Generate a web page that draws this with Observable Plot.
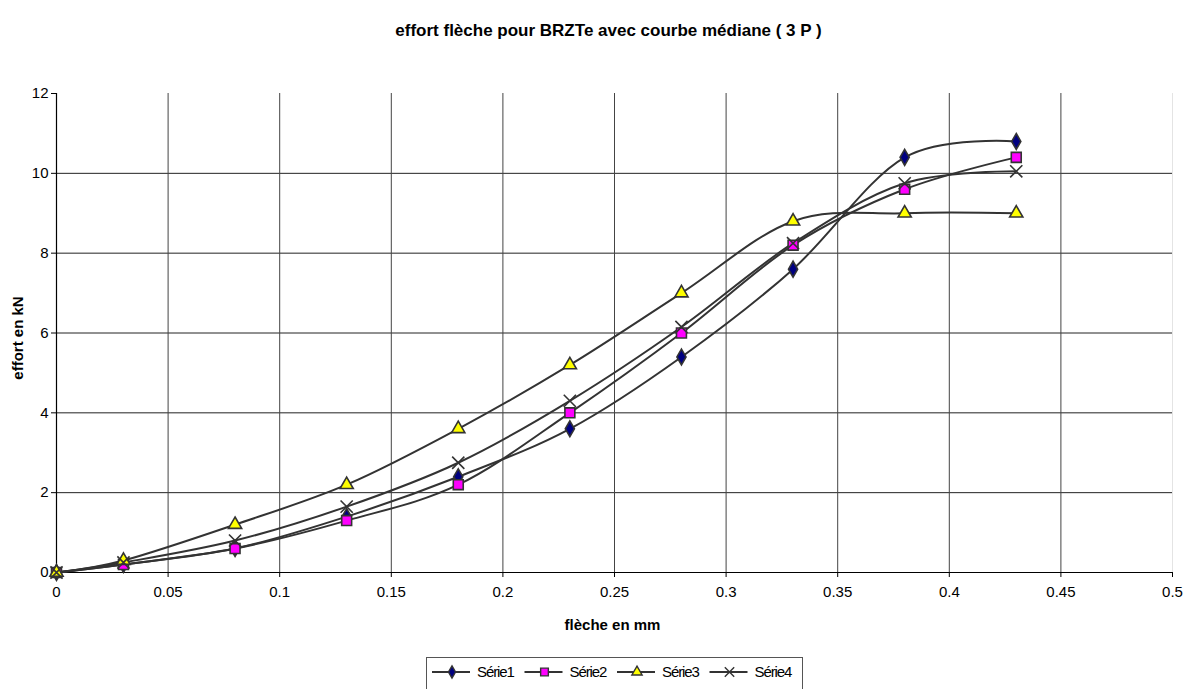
<!DOCTYPE html>
<html>
<head>
<meta charset="utf-8">
<script src="https://cdn.jsdelivr.net/npm/d3@7"></script>
<script src="https://cdn.jsdelivr.net/npm/@observablehq/plot@0.6"></script>
<style>
  body { margin: 0; background: #fff; font-family: "Liberation Sans", Arial, sans-serif; }
  #chart { position: relative; width: 1202px; height: 689px; overflow: hidden; }
  #legend { position: absolute; left: 426px; top: 657px; }
</style>
</head>
<body>
<div id="chart"></div>
<script>
// Deflection (mm) at which each load was measured
const fleche = [0, 0.03, 0.08, 0.13, 0.18, 0.23, 0.28, 0.33, 0.38, 0.43];

// Load (kN) for each specimen
const serie1 = [0, 0.2, 0.6, 1.4, 2.4, 3.6, 5.4, 7.6, 10.4, 10.8];
const serie2 = [0, 0.2, 0.6, 1.3, 2.2, 4.0, 6.0, 8.2, 9.6, 10.4];
const serie3 = [0, 0.3, 1.2, 2.2, 3.6, 5.2, 7.0, 8.8, 9.0, 9.0];
const serie4 = [0, 0.25, 0.8, 1.65, 2.75, 4.3, 6.15, 8.25, 9.75, 10.05];

const seriesNames = ["Série1", "Série2", "Série3", "Série4"];
const seriesValues = [serie1, serie2, serie3, serie4];

const xTicks = [0, 0.05, 0.1, 0.15, 0.2, 0.25, 0.3, 0.35, 0.4, 0.45, 0.5];
const yTicks = [0, 2, 4, 6, 8, 10, 12];

const title = "effort flèche pour BRZTe avec courbe médiane ( 3 P )";
const xLabel = "flèche en mm";
const yLabel = "effort en kN";

// Marker style per series
const markers = {
  "Série1": {symbol: "diamond", r: 4.8, fill: "#000080", stroke: "#333"},
  "Série2": {symbol: "square", r: 5.6, fill: "#ff00ff", stroke: "#333"},
  "Série3": {symbol: "triangle", r: 4.9, fill: "#ffff00", stroke: "#333"},
  "Série4": {symbol: "times", r: 5.6, fill: "none", stroke: "#333"}
};

const data = seriesNames.flatMap((name, i) =>
  fleche.map((x, j) => ({serie: name, fleche: x, effort: seriesValues[i][j]}))
);

const font = "'Liberation Sans', Arial, sans-serif";

const plot = Plot.plot({
  width: 1202,
  height: 689,
  marginLeft: 56,
  marginRight: 30,
  marginTop: 93,
  marginBottom: 117,
  style: {fontFamily: font, fontSize: "15px", color: "#000", background: "#fff"},
  x: {domain: [0, 0.5]},
  y: {domain: [0, 12]},
  marks: [
    Plot.gridY(yTicks.filter(v => v > 0 && v < 12), {stroke: "#222", strokeOpacity: 1, strokeWidth: 1}),
    Plot.gridX(xTicks.filter(v => v > 0 && v < 0.5), {stroke: "#444", strokeOpacity: 1, strokeWidth: 1}),
    Plot.ruleX([0.5], {stroke: "#e4e4e4", strokeWidth: 1}),
    Plot.axisY({ticks: yTicks, tickSize: 5, tickPadding: 3, label: null, fontSize: 15, letterSpacing: -1, tickFormat: d => String(d)}),
    Plot.axisX({ticks: xTicks, tickSize: 5, tickPadding: 9, label: null, fontSize: 15, letterSpacing: -1.2, tickFormat: d => String(d)}),
    Plot.ruleY([0], {stroke: "#000", strokeWidth: 1.2}),
    Plot.ruleX([0], {stroke: "#000", strokeWidth: 1.2}),
    Plot.line(data, {x: "fleche", y: "effort", z: "serie", stroke: "#333", strokeWidth: 2, curve: "cardinal"}),
    ...seriesNames.map(name => Plot.dot(data.filter(d => d.serie === name), {
      x: "fleche", y: "effort", ...markers[name], strokeWidth: 1.6
    })),
    Plot.text([title], {frameAnchor: "top", lineAnchor: "middle", dy: -63, dx: -6, fontSize: 17, fontWeight: "bold", letterSpacing: -0.3}),
    Plot.text([xLabel], {frameAnchor: "bottom", lineAnchor: "middle", dy: 53, dx: -2, fontSize: 15, fontWeight: "bold", letterSpacing: -1.1}),
    Plot.text([yLabel], {frameAnchor: "left", textAnchor: "middle", dx: -38, dy: 5, rotate: -90, fontSize: 15, fontWeight: "bold", letterSpacing: -0.4})
  ]
});

const chart = document.getElementById("chart");
chart.appendChild(plot);

// Legend box under the plot
const symbolTypes = {diamond: d3.symbolDiamond, square: d3.symbolSquare, triangle: d3.symbolTriangle, times: d3.symbolTimes};
const legendDiv = document.createElement("div");
legendDiv.id = "legend";
chart.appendChild(legendDiv);
const leg = d3.select(legendDiv).append("svg").attr("width", 377).attr("height", 40)
  .style("font-family", font).style("font-size", "15px");
leg.append("rect").attr("x", 0.5).attr("y", 0.5).attr("width", 376).attr("height", 39)
  .attr("fill", "#fff").attr("stroke", "#555");
seriesNames.forEach((name, i) => {
  const x0 = 6 + i * 92.5;
  const cy = 15;
  const m = markers[name];
  leg.append("line").attr("x1", x0).attr("x2", x0 + 38).attr("y1", cy).attr("y2", cy)
    .attr("stroke", "#333").attr("stroke-width", 2);
  leg.append("path").attr("transform", `translate(${x0 + 20},${cy})`)
    .attr("d", d3.symbol(symbolTypes[m.symbol], Math.PI * m.r * m.r * 0.6)())
    .attr("fill", m.fill).attr("stroke", m.stroke).attr("stroke-width", 1.4);
  leg.append("text").attr("x", x0 + 45).attr("y", cy).attr("dy", "0.35em")
    .attr("letter-spacing", -1.1).text(name);
});
</script>
</body>
</html>
